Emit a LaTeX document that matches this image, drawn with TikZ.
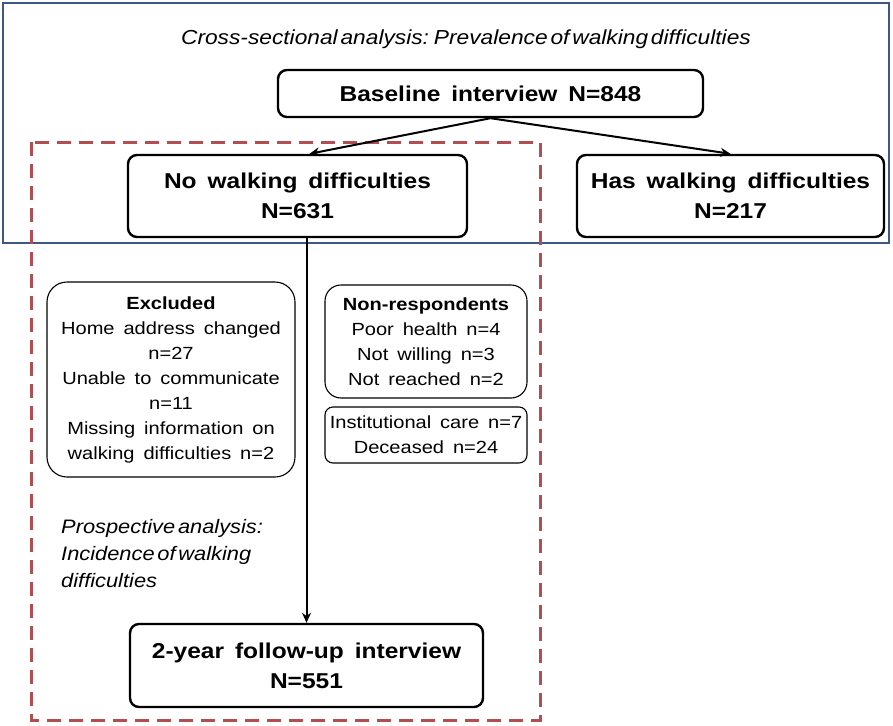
\documentclass[tikz,border=0pt]{standalone}
\usepackage{fontspec}
\setmainfont{Liberation Sans}
\newfontfamily\boxfont{Liberation Sans}[FakeStretch=1.14, WordSpace=1.6]
\newfontfamily\notefont{Liberation Sans}[FakeStretch=1.12, WordSpace=0.45]
\usetikzlibrary{arrows.meta,calc}
\definecolor{frameblue}{RGB}{62,88,132}
\definecolor{dashred}{RGB}{178,78,80}
\tikzset{
  mainbox/.style={draw, rounded corners=9pt, line width=2.4pt, align=center,
    font=\boxfont\bfseries\fontsize{21.5}{30}\selectfont, inner sep=0pt},
  sidebox/.style={draw, line width=1.1pt, align=center,
    font=\boxfont\fontsize{17.6}{25}\selectfont, inner sep=0pt},
  conn/.style={line width=2pt, -{Stealth[length=10pt,width=9pt]}},
  note/.style={font=\notefont\itshape\fontsize{19.5}{27}\selectfont, inner sep=0pt},
}
\begin{document}
\begin{tikzpicture}[x=1pt,y=-1pt]
\useasboundingbox (0,0) rectangle (893,725);
% frames
\draw[frameblue, line width=2.8pt] (3,3) rectangle (889,243);
\draw[dashred, line width=3pt, dash pattern=on 14pt off 8pt] (31,142) rectangle (540,720);
% title
\node[note, font=\notefont\itshape\fontsize{20.3}{27}\selectfont] (title) at (466,39) {Cross-sectional analysis: Prevalence of walking difficulties};
% main boxes
\node[mainbox, minimum width=425pt, minimum height=47pt] (base) at (490.5,93.5) {Baseline interview N=848};
\node[mainbox, minimum width=339pt, minimum height=82pt] (nowalk) at (297.5,196) {No walking difficulties\\N=631};
\node[mainbox, minimum width=307pt, minimum height=82pt] (haswalk) at (730.5,196) {Has walking difficulties\\N=217};
\node[mainbox, minimum width=353pt, minimum height=83pt] (follow) at (306.5,665.5) {2-year follow-up interview\\N=551};
% side boxes
\node[sidebox, rounded corners=20pt, minimum width=248pt, minimum height=195pt] (excl) at (171,379.5)
  {\textbf{Excluded}\\Home address changed\\n=27\\Unable to communicate\\n=11\\Missing information on\\walking difficulties n=2};
\node[sidebox, rounded corners=16pt, minimum width=202pt, minimum height=113pt] (nonresp) at (426,341.5)
  {\textbf{Non-respondents}\\Poor health n=4\\Not willing n=3\\Not reached n=2};
\node[sidebox, rounded corners=8pt, minimum width=202pt, minimum height=56pt] (inst) at (426,435)
  {Institutional care n=7\\Deceased n=24};
% prospective note
\node[note, anchor=north west, align=left] (prosp) at (61,519) {Prospective analysis:\\Incidence of walking\\difficulties};
% connectors
\draw[conn] (base.south) -- ([xshift=12pt]nowalk.north);
\draw[conn] (base.south) -- (haswalk.north);
\draw[conn] (follow.north |- nowalk.south) -- (follow.north);
\end{tikzpicture}
\end{document}
